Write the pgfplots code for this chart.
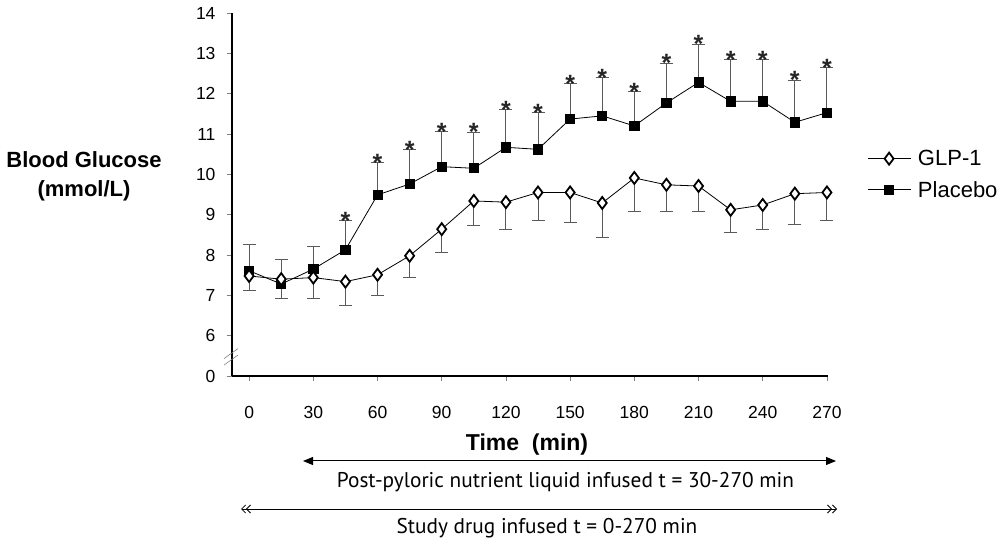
\documentclass[border=0pt]{standalone}
\usepackage{pgfplots}
\pgfplotsset{compat=1.18}
\usepackage{fontspec}
\setmainfont{Liberation Sans}
\newfontfamily\myriad{PT Sans}
\usetikzlibrary{arrows.meta}
\definecolor{errgray}{RGB}{90,90,90}
\begin{document}
\begin{tikzpicture}
\useasboundingbox (0pt,0pt) rectangle (1004pt,543pt);
\begin{axis}[
  at={(232pt,167pt)}, anchor=south west,
  scale only axis, width=596pt, height=363pt,
  xmin=-8, xmax=270.5, ymin=5, ymax=14,
  axis lines*=left,
  axis line style={line width=1.6pt, -},
  xtick={0,30,...,270}, ytick={5,...,14},
  yticklabels={0,6,7,8,9,10,11,12,13,14},
  tick align=outside, major tick length=5pt,
  tick style={gray, line width=0.6pt},
  tick label style={font=\fontsize{17.5}{20}\selectfont},
  xticklabel style={yshift=-22pt},
  yticklabel style={xshift=-8pt},
  /pgf/number format/assume math mode=true,
  clip=false,
  legend style={at={(1.0654,0.628)}, anchor=north west, draw=none, fill=none,
    font=\fontsize{22}{24}\selectfont, row sep=10pt, inner sep=0pt},
  legend cell align=left,
  legend image code/.code={\draw[mark repeat=2,mark phase=2,#1] plot coordinates {(0pt,0pt) (21.5pt,0pt) (43pt,0pt)}; \path (48pt,0pt);},
]
\addlegendimage{black, line width=0.8pt, mark=diamond*, mark size=6pt, mark options={fill=white, draw=black, line width=1.8pt}}
\addlegendentry{GLP-1}
\addlegendimage{black, line width=0.8pt, mark=square*, mark size=4.4pt}
\addlegendentry{Placebo}

% Placebo
\addplot[forget plot, black, line width=0.8pt, mark=square*, mark size=4.6pt,
  error bars/.cd, y dir=plus, y explicit,
  error bar style={errgray, line width=1pt},
  error mark options={rotate=90, mark size=6.5pt, errgray, line width=1pt}]
coordinates {
(0,7.61) +- (0,0.64)
(15,7.28) +- (0,0.62)
(30,7.65) +- (0,0.56)
(45,8.13) +- (0,0.72)
(60,9.49) +- (0,0.80)
(75,9.76) +- (0,0.85)
(90,10.19) +- (0,0.87)
(105,10.15) +- (0,0.89)
(120,10.67) +- (0,0.93)
(135,10.62) +- (0,0.91)
(150,11.37) +- (0,0.88)
(165,11.45) +- (0,0.95)
(180,11.20) +- (0,0.85)
(195,11.77) +- (0,0.99)
(210,12.28) +- (0,0.95)
(225,11.81) +- (0,1.03)
(240,11.81) +- (0,1.03)
(255,11.29) +- (0,1.04)
(270,11.53) +- (0,1.11)
};

% GLP-1
\addplot[forget plot, black, line width=0.8pt, mark=diamond*, mark size=6pt,
  mark options={fill=white, draw=black, line width=1.8pt},
  error bars/.cd, y dir=minus, y explicit,
  error bar style={errgray, line width=1pt},
  error mark options={rotate=90, mark size=6.5pt, errgray, line width=1pt}]
coordinates {
(0,7.48) +- (0,0.36)
(15,7.40) +- (0,0.48)
(30,7.44) +- (0,0.52)
(45,7.34) +- (0,0.58)
(60,7.51) +- (0,0.51)
(75,7.98) +- (0,0.54)
(90,8.64) +- (0,0.58)
(105,9.34) +- (0,0.62)
(120,9.31) +- (0,0.69)
(135,9.55) +- (0,0.70)
(150,9.55) +- (0,0.75)
(165,9.29) +- (0,0.85)
(180,9.91) +- (0,0.83)
(195,9.74) +- (0,0.66)
(210,9.71) +- (0,0.63)
(225,9.12) +- (0,0.55)
(240,9.24) +- (0,0.60)
(255,9.52) +- (0,0.76)
(270,9.55) +- (0,0.70)
};

% significance stars at top of placebo error bars
\addplot[forget plot, draw=none, nodes near coords={*},
  every node near coord/.append style={anchor=base, yshift=-8.5pt, inner sep=0pt,
    font=\bfseries\fontsize{25}{25}\selectfont, text=black!85}]
coordinates {
(45,8.85) (60,10.29) (75,10.61) (90,11.06) (105,11.04) (120,11.60)
(135,11.53) (150,12.25) (165,12.40) (180,12.05) (195,12.76) (210,13.23)
(225,12.84) (240,12.84) (255,12.33) (270,12.64)
};

% axis break marks
\draw[gray, line width=0.6pt] ([xshift=-8pt,yshift=-6pt]axis cs:-8,5.58) -- ++(14pt,10pt);
\draw[gray, line width=0.6pt] ([xshift=-8pt,yshift=-6pt]axis cs:-8,5.42) -- ++(14pt,10pt);
\end{axis}

\node[font=\bfseries\fontsize{22}{29}\selectfont, align=center] at (84pt,367pt) {Blood Glucose\\(mmol/L)};
\node[font=\bfseries\fontsize{23}{24}\selectfont, anchor=base] at (527pt,92pt) {Time\ \ (min)};
\draw[line width=1pt, {Triangle[length=10pt,width=8pt]}-{Triangle[length=10pt,width=8pt]}] (303pt,82pt) -- (836pt,82pt);
\node[font=\myriad\fontsize{21.3}{22}\selectfont, anchor=base] at (565.5pt,55pt) {Post-pyloric nutrient liquid infused t = 30-270 min};
\draw[line width=0.8pt, {Straight Barb[length=4pt,width=8pt] Straight Barb[length=4pt,width=8pt]}-{Straight Barb[length=4pt,width=8pt] Straight Barb[length=4pt,width=8pt]}] (241pt,34pt) -- (837pt,34pt);
\node[font=\myriad\fontsize{21.3}{22}\selectfont, anchor=base] at (547pt,9pt) {Study drug infused t = 0-270 min};
\end{tikzpicture}
\end{document}
